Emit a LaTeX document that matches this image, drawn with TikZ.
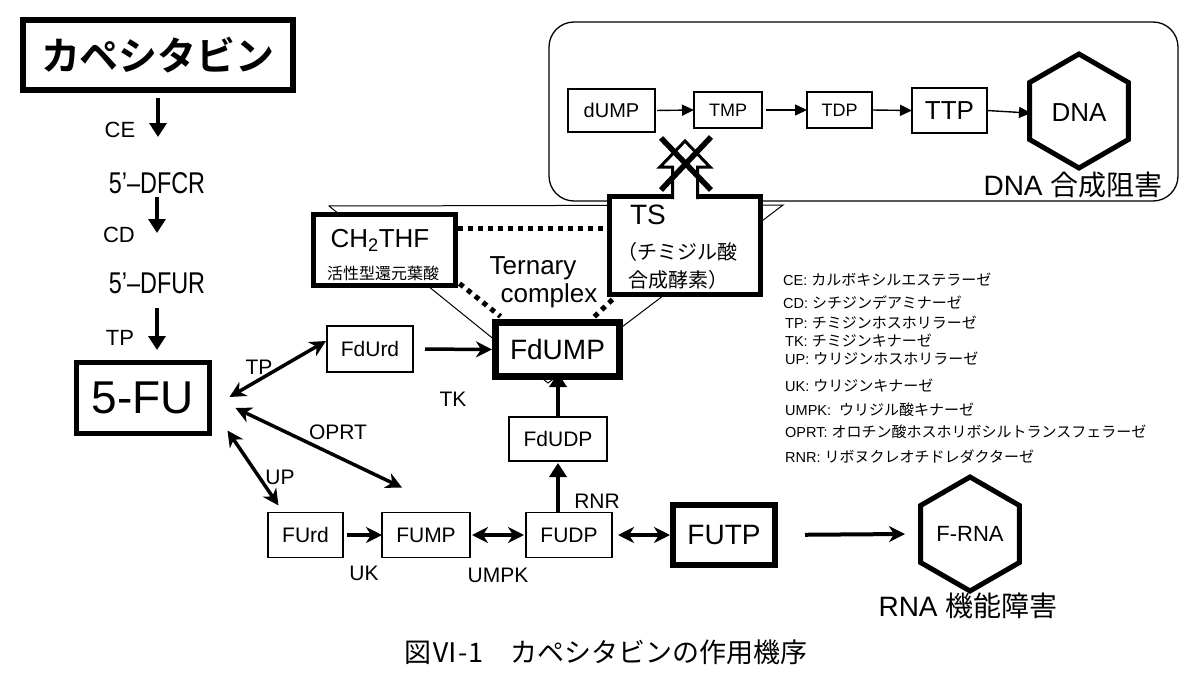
\documentclass[tikz,border=0pt]{standalone}
\usepackage{fontspec}
\setmainfont{Liberation Sans}
\newfontfamily\jp{Noto Sans CJK JP}
\newfontfamily\jpb{Noto Sans CJK JP Bold}
\usetikzlibrary{arrows.meta,calc}
\newcommand\fs[1]{\fontsize{#1}{#1}\selectfont}
\newcommand\lj[1]{{\jp\fs{15}#1}}
\begin{document}
\begin{tikzpicture}[x=1pt,y=-1pt,
  box/.style={draw,fill=white,line width=1.3pt,inner sep=0pt,outer sep=0pt,font=\fs{21}},
  lbl/.style={inner sep=0pt,outer sep=0pt,font=\fs{21}},
  varr/.style={line width=3.5pt,-{Triangle[length=14pt,width=17pt]}},
  tarr/.style={line width=3.5pt,-{Stealth[length=16pt,width=16pt,inset=5pt]}},
  darr/.style={line width=3.5pt,{Stealth[length=16pt,width=16pt,inset=5pt]}-{Stealth[length=16pt,width=16pt,inset=5pt]}},
  sarr/.style={line width=1.4pt,-{Triangle[length=12pt,width=11pt]}},
  dots/.style={line width=5pt,dash pattern=on 5pt off 5pt},
  hexa/.style={line width=5pt,line join=miter},
  leg/.style={anchor=west,inner sep=0pt,font=\fs{14.5}},
]
\useasboundingbox (0,0) rectangle (1200,677);

% background triangle
\coordinate (t1) at (329,206);
\coordinate (t2) at (783,205);
\coordinate (t3) at (548,383);
\draw[line width=1pt] (t1) -- (t2) -- (t3) -- cycle;

% DNA frame
\node[draw,line width=1.3pt,rounded corners=25pt,minimum width=629pt,minimum height=179pt,inner sep=0pt] (frame) at (863.5,111.5) {};

% left column
\node[box,line width=6pt,minimum width=270pt,minimum height=70pt,font=\jpb\fs{39}] (cap) at (158,55) {カペシタビン};
\node[lbl,font=\fs{30},text height=21pt,text depth=0pt] (dfcr) at (157,183) {\scalebox{0.78}[1]{5'–DFCR}};
\node[lbl,font=\fs{30},text height=21pt,text depth=0pt] (dfur) at (157,283) {\scalebox{0.78}[1]{5'–DFUR}};
\node[box,line width=5pt,minimum width=133pt,minimum height=71pt,font=\fs{46}] (fu) at (143,398) {5-FU};
\draw[varr,shorten <=8pt,shorten >=35.5pt] (cap.south) -- (cap.south |- dfcr.north);
\draw[varr,shorten <=3.5pt,shorten >=39.5pt] (dfcr.south) -- (dfur.north);
\draw[varr,shorten <=14.5pt,shorten >=12.5pt] (dfur.south) -- (dfur.south |- fu.north);
\node[lbl,font=\fs{22}] (lce) at (120,130) {CE};
\node[lbl,font=\fs{22}] (lcd) at (119,235) {CD};
\node[lbl,font=\fs{22}] (ltp1) at (120,338) {TP};

% DNA row
\node[box,minimum width=87pt,minimum height=43pt,font=\fs{20}] (dump) at (611.5,110.5) {dUMP};
\node[box,minimum width=68pt,minimum height=36pt,font=\fs{18}] (tmp) at (728,110) {TMP};
\node[box,minimum width=65pt,minimum height=36pt,font=\fs{18}] (tdp) at (839.5,110) {TDP};
\node[box,minimum width=75pt,minimum height=45pt,font=\fs{26}] (ttp) at (949.5,110.5) {TTP};
\node[lbl,font=\fs{26},minimum width=100pt] (dna) at (1079,113) {DNA};
\draw[hexa] ($(dna.center)+(0,-59)$) -- ($(dna.center)+(-49.4,-30.5)$) -- ($(dna.center)+(-49.4,26.5)$) -- ($(dna.center)+(0,55)$) -- ($(dna.center)+(49.4,26.5)$) -- ($(dna.center)+(49.4,-30.5)$) -- cycle;
\draw[sarr,shorten <=2pt] (dump.east) -- (tmp.west);
\draw[sarr,shorten <=4pt] (tmp.east) -- (tdp.west);
\draw[sarr,shorten <=1pt] (tdp.east) -- (ttp.west);
\draw[sarr,shorten <=1pt,shorten >=-2pt] (ttp.east) -- (dna.west);
\node[lbl,font=\fs{28}] (dnainh) at (1073,185) {DNA {\jp 合成阻害}};

% CH2THF and TS
\node[box,line width=5pt,minimum width=142pt,minimum height=71pt] (ch) at (384.5,250) {};
\node[lbl,font=\fs{26}] (chtxt) at (380,240) {CH\textsubscript{2}THF};
\node[lbl,font=\jp\fs{16}] (chsub) at (383,273) {活性型還元葉酸};
\node[box,line width=5pt,minimum width=151pt,minimum height=98pt] (ts) at (685,245.5) {};
\node[lbl,font=\fs{28},anchor=west] (tstxt) at (630,215) {TS};
\node[lbl,font=\jp\fs{20},anchor=west] (ts2) at (617,252) {（チミジル酸};
\node[lbl,font=\jp\fs{20},anchor=west] (ts3) at (628,280) {合成酵素）};

% crossed block arrow from TS
\fill[white] ($(ts.north)+(-11.2,-3)$) rectangle ($(ts.north)+(11.2,3)$);
\draw[line width=3pt,line join=miter] ($(ts.north)+(-12.5,2.5)$) -- ++(0,-32) -- ++(-12.5,0) -- ($(ts.north)+(0,-55.5)$) -- ($(ts.north)+(25,-29.5)$) -- ++(-12.5,0) -- ($(ts.north)+(12.5,2.5)$);
\draw[line width=5.5pt] ($(ts.north)+(-24,-58.5)$) -- ($(ts.north)+(26,-6.5)$);
\draw[line width=5.5pt] ($(ts.north)+(26,-59.5)$) -- ($(ts.north)+(-24,-6.5)$);

% FdUMP etc
\node[box,line width=7pt,minimum width=124pt,minimum height=54pt,font=\fs{28}] (fdump) at (557.5,349.5) {FdUMP};
\node[lbl,font=\fs{26}] (tern) at (533,268) {Ternary};
\node[lbl,font=\fs{26}] (comp) at (549,296) {complex};
\draw[dots] ($(ch.east)+(2.5,-22)$) -- ($(ts.west)+(-2.5,-17.5)$);
\draw[dots] ($(ch.south east)+(4,-2)$) -- ($(fdump.north west)+(5,-6)$);
\draw[dots] ($(ts.south west)+(3,5)$) -- ($(fdump.north east)+(-26,-5)$);

\node[box,minimum width=86pt,minimum height=46pt] (fdurd) at (370,349) {FdUrd};
\node[box,minimum width=98pt,minimum height=44pt] (fdudp) at (558,439) {FdUDP};
\node[box,minimum width=75pt,minimum height=45pt] (furd) at (305.5,535) {FUrd};
\node[box,minimum width=88pt,minimum height=45pt] (fump) at (426,535) {FUMP};
\node[box,minimum width=86pt,minimum height=45pt] (fudp) at (569,535) {FUDP};
\node[box,line width=6pt,minimum width=102pt,minimum height=60pt,font=\fs{28}] (futp) at (724,535) {FUTP};
\node[lbl,font=\fs{22},minimum width=130pt] (frna) at (970,534) {F-RNA};
\draw[hexa] ($(frna.center)+(0,-57)$) -- ($(frna.center)+(-49.4,-28.5)$) -- ($(frna.center)+(-49.4,28.5)$) -- ($(frna.center)+(0,57)$) -- ($(frna.center)+(49.4,28.5)$) -- ($(frna.center)+(49.4,-28.5)$) -- cycle;
\node[lbl,font=\fs{28}] (rnainh) at (968,606) {RNA {\jp 機能障害}};

\draw[tarr,shorten <=12pt,shorten >=3.5pt] (fdurd.east) -- (fdump.west);
\draw[varr,shorten >=-3.5pt] (fdudp.north) -- (fdudp.north |- fdump.south);
\draw[varr,shorten >=2pt] (fudp.north -| fdudp.south) -- (fdudp.south);
\draw[tarr,shorten <=4pt] (furd.east) -- (fump.west);
\draw[darr,shorten <=2pt,shorten >=2pt] (fump.east) -- (fudp.west);
\draw[darr,shorten <=6pt,shorten >=3pt] (fudp.east) -- (futp.west);
\draw[tarr,line width=4pt,shorten <=30pt] (futp.east) -- (frna.west);

\draw[darr] ($(fu.east)+(20,-1)$) -- ($(fdurd.west)+(-1,-8)$);
\draw[darr] ($(fu.east)+(26,10)$) -- ($(fump.north)+(-24,-25)$);
\draw[darr] ($(fu.south east)+(18,-3)$) -- ($(furd.north)+(-27,-7)$);

\node[lbl] (ltp2) at (259,367) {TP};
\node[lbl] (loprt) at (338,432) {OPRT};
\node[lbl] (lup) at (280,477) {UP};
\node[lbl] (ltk) at (453,399) {TK};
\node[lbl] (lrnr) at (597,501) {RNR};
\node[lbl] (luk) at (364,573) {UK};
\node[lbl] (lumpk) at (498,575) {UMPK};

% legend
\node[leg] (g1) at (783,280) {CE: \lj{カルボキシルエステラーゼ}};
\node[leg] (g2) at (783,303) {CD: \lj{シチジンデアミナーゼ}};
\node[leg] (g3) at (785,323) {TP: \lj{チミジンホスホリラーゼ}};
\node[leg] (g4) at (785,341) {TK: \lj{チミジンキナーゼ}};
\node[leg] (g5) at (785,359) {UP: \lj{ウリジンホスホリラーゼ}};
\node[leg] (g6) at (785,386) {UK: \lj{ウリジンキナーゼ}};
\node[leg] (g7) at (785,410) {UMPK:\ \ \lj{ウリジル酸キナーゼ}};
\node[leg] (g8) at (785,432) {OPRT: \lj{オロチン酸ホスホリボシルトランスフェラーゼ}};
\node[leg] (g9) at (785,457) {RNR: \lj{リボヌクレオチドレダクターゼ}};

% caption
\node[lbl,font=\jp\fs{27}] (caption) at (606,652) {図Ⅵ-1　カペシタビンの作用機序};
\end{tikzpicture}
\end{document}
